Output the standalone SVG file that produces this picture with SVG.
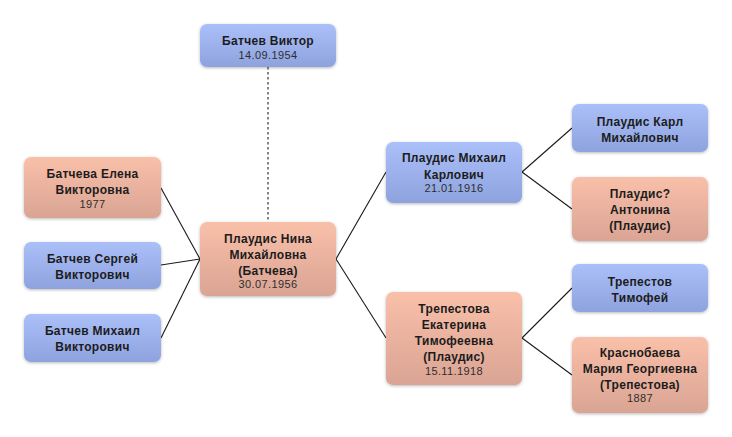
<svg xmlns="http://www.w3.org/2000/svg" width="732" height="437" viewBox="0 0 732 437">
<defs>
<linearGradient id="gb" x1="0" y1="0" x2="0" y2="1">
<stop offset="0" stop-color="#abc0f9"/>
<stop offset="1" stop-color="#8ea3de"/>
</linearGradient>
<linearGradient id="gp" x1="0" y1="0" x2="0" y2="1">
<stop offset="0" stop-color="#f9c0a9"/>
<stop offset="1" stop-color="#daa494"/>
</linearGradient>
<filter id="sh" x="-20%" y="-20%" width="140%" height="150%">
<feDropShadow dx="0" dy="1" stdDeviation="1.6" flood-color="#000" flood-opacity="0.28"/>
</filter>
</defs>
<style>
.b{fill:url(#gb);filter:url(#sh)}
.p{fill:url(#gp);filter:url(#sh)}
.n{font-family:"Liberation Sans",Arial,sans-serif;font-size:12px;font-weight:bold;fill:#1c1c1c;text-anchor:middle;letter-spacing:0.3px}
.d{font-family:"Liberation Sans",Arial,sans-serif;font-size:11px;fill:#2e2e2e;text-anchor:middle;letter-spacing:0.4px}
.c{stroke:#1a1a1a;stroke-width:1.1;fill:none}
.dot{stroke:#666;stroke-width:1.6;stroke-dasharray:2.5 2.5;fill:none}
</style>
<rect width="732" height="437" fill="#fff"/>
<g id="connectors">
<line class="dot" x1="268" y1="67" x2="268" y2="223"/>
<line class="c" x1="161" y1="188" x2="200" y2="259"/>
<line class="c" x1="161" y1="265" x2="200" y2="259"/>
<line class="c" x1="161" y1="338" x2="200" y2="259"/>
<line class="c" x1="336" y1="259" x2="386" y2="172"/>
<line class="c" x1="336" y1="259" x2="386" y2="338"/>
<line class="c" x1="522" y1="172" x2="572" y2="128"/>
<line class="c" x1="522" y1="172" x2="572" y2="209"/>
<line class="c" x1="522" y1="338" x2="572" y2="288"/>
<line class="c" x1="522" y1="338" x2="572" y2="375"/>
</g>
<g id="viktor">
<rect class="b" x="200" y="24" width="136" height="43" rx="7"/>
<text class="n" x="268" y="45">Батчев Виктор</text>
<text class="d" x="268" y="59">14.09.1954</text>
</g>
<g id="elena">
<rect class="p" x="24" y="157" width="137" height="61" rx="7"/>
<text class="n" x="92.5" y="178">Батчева Елена</text>
<text class="n" x="92.5" y="194">Викторовна</text>
<text class="d" x="92.5" y="208">1977</text>
</g>
<g id="sergey">
<rect class="b" x="24" y="242" width="137" height="47" rx="7"/>
<text class="n" x="92.5" y="263">Батчев Сергей</text>
<text class="n" x="92.5" y="279">Викторович</text>
</g>
<g id="mikhail-v">
<rect class="b" x="24" y="314" width="137" height="48" rx="7"/>
<text class="n" x="92.5" y="335">Батчев Михаил</text>
<text class="n" x="92.5" y="351">Викторович</text>
</g>
<g id="nina">
<rect class="p" x="200" y="222" width="136" height="74" rx="7"/>
<text class="n" x="268" y="243">Плаудис Нина</text>
<text class="n" x="268" y="259">Михайловна</text>
<text class="n" x="268" y="275">(Батчева)</text>
<text class="d" x="268" y="288">30.07.1956</text>
</g>
<g id="mikhail-k">
<rect class="b" x="386" y="142" width="136" height="61" rx="7"/>
<text class="n" x="454" y="162">Плаудис Михаил</text>
<text class="n" x="454" y="179">Карлович</text>
<text class="d" x="454" y="192">21.01.1916</text>
</g>
<g id="ekaterina">
<rect class="p" x="386" y="292" width="136" height="93" rx="7"/>
<text class="n" x="454" y="313">Трепестова</text>
<text class="n" x="454" y="329">Екатерина</text>
<text class="n" x="454" y="345">Тимофеевна</text>
<text class="n" x="454" y="361">(Плаудис)</text>
<text class="d" x="454" y="375">15.11.1918</text>
</g>
<g id="karl">
<rect class="b" x="572" y="104" width="136" height="48" rx="7"/>
<text class="n" x="640" y="126">Плаудис Карл</text>
<text class="n" x="640" y="142">Михайлович</text>
</g>
<g id="antonina">
<rect class="p" x="572" y="177" width="136" height="64" rx="7"/>
<text class="n" x="640" y="198">Плаудис?</text>
<text class="n" x="640" y="214">Антонина</text>
<text class="n" x="640" y="230">(Плаудис)</text>
</g>
<g id="timofey">
<rect class="b" x="572" y="264" width="136" height="48" rx="7"/>
<text class="n" x="640" y="286">Трепестов</text>
<text class="n" x="640" y="302">Тимофей</text>
</g>
<g id="maria">
<rect class="p" x="572" y="337" width="136" height="76" rx="7"/>
<text class="n" x="640" y="357">Краснобаева</text>
<text class="n" x="640" y="373">Мария Георгиевна</text>
<text class="n" x="640" y="389">(Трепестова)</text>
<text class="d" x="640" y="402">1887</text>
</g>
</svg>
